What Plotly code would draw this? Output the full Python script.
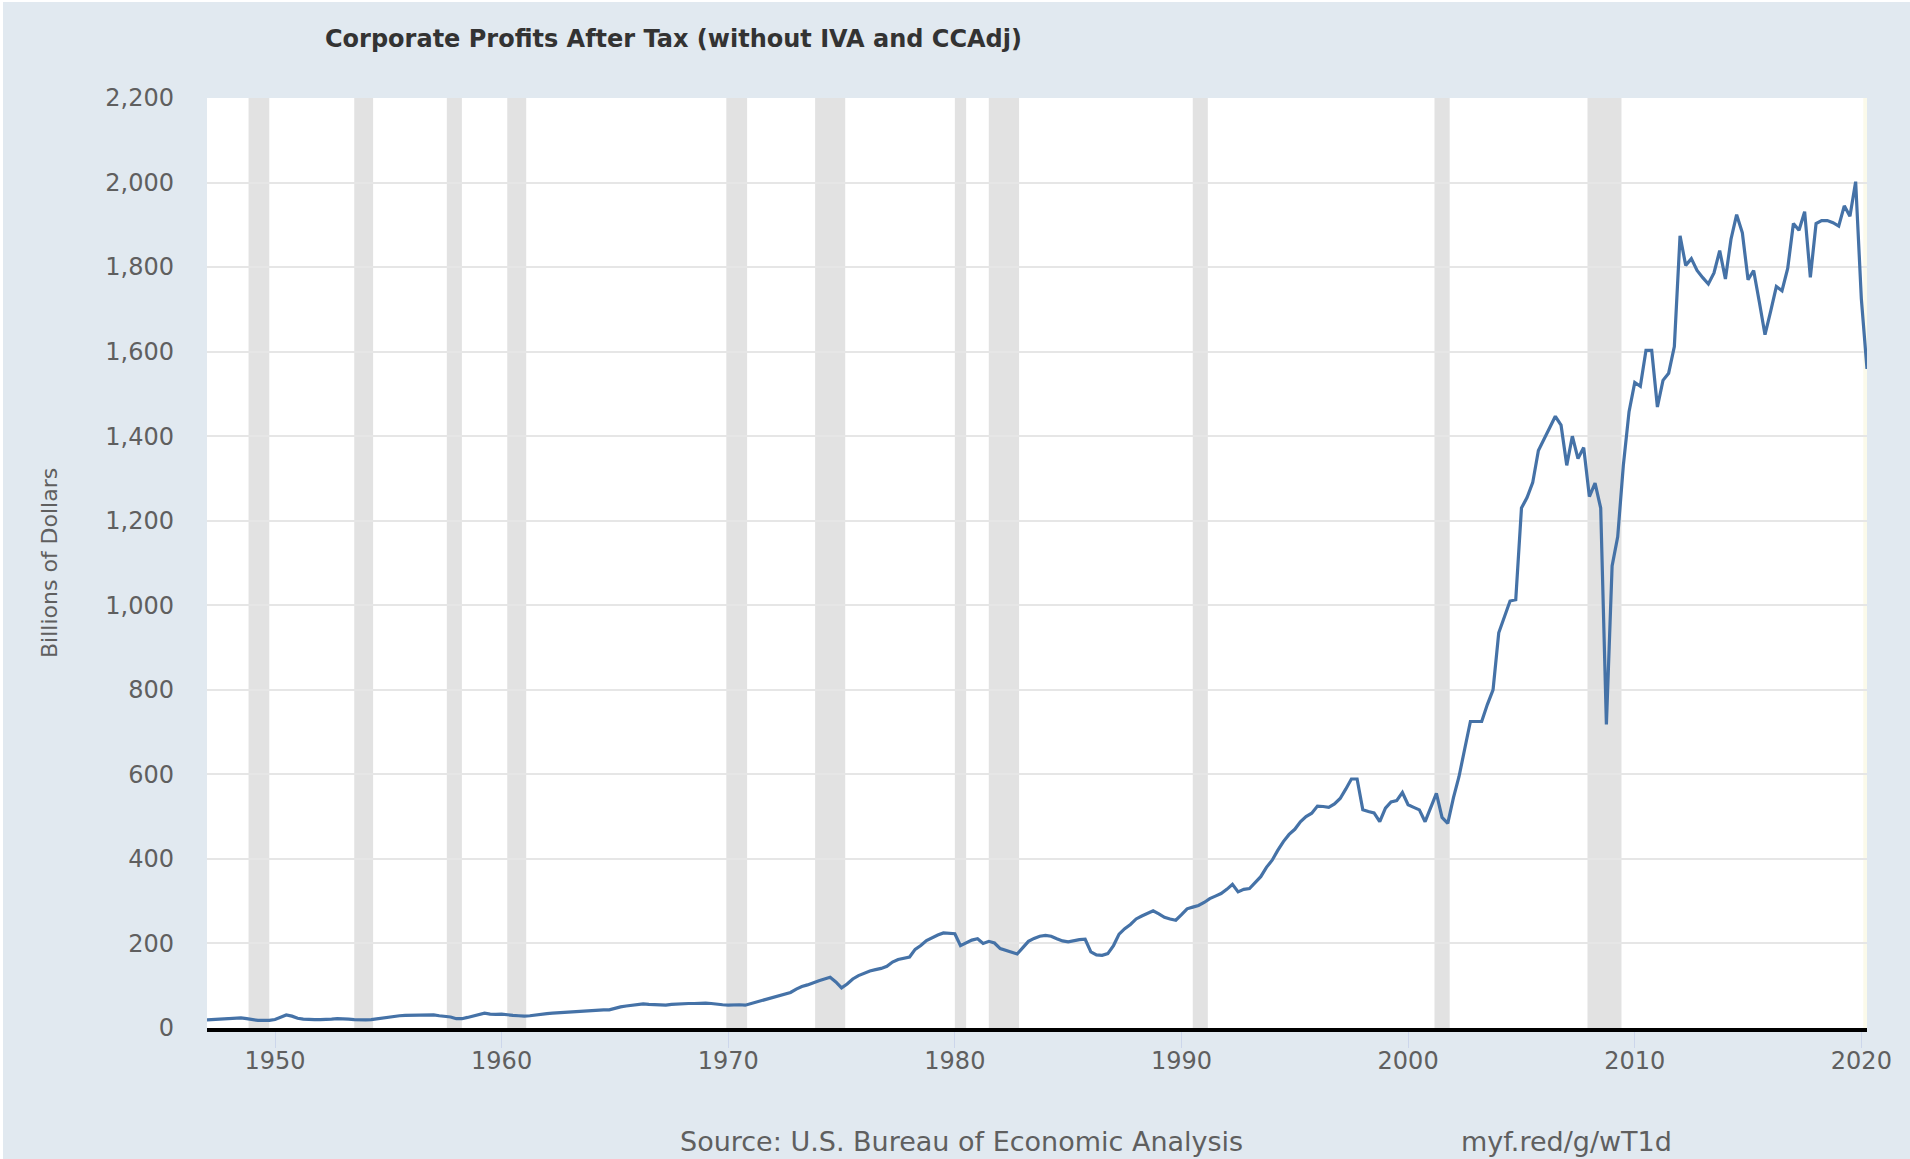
import pandas as pd
import plotly.graph_objects as go

# Corporate Profits After Tax (without IVA and CCAdj), billions of dollars, quarterly from 1947Q1
values_1947_1969 = [
    19, 20, 21, 22,   23, 24, 24, 22,   20, 18, 18, 18,   20, 25, 31, 28,
    23, 21, 20, 20,   20, 20, 21, 22,   22, 21, 20, 19,   19, 20, 22, 23,
    26, 28, 29, 30,   30, 30, 30, 31,   31, 29, 28, 26,   22, 22, 25, 28,
    32, 35, 33, 32,   33, 31, 30, 29,   28, 29, 31, 32,   34, 35, 36, 37,
    38, 39, 40, 41,   42, 42, 43, 43,   47, 50, 52, 54,   56, 57, 56, 55,
    54, 54, 56, 57,   57, 58, 58, 59,   59, 58, 56, 55,
]
values_1970_1989 = [
    54, 55, 55, 54,   58, 62, 66, 70,   73, 76, 80, 84,   92, 98, 102, 108,
    112, 116, 120, 109,   95, 104, 116, 124,   130, 135, 138, 141,   146, 156, 162, 165,
    168, 186, 195, 207,   214, 220, 225, 224,   223, 195, 202, 208,   211, 200, 205, 201,
    188, 184, 178, 175,   190, 205, 212, 217,   219, 217, 211, 206,   204, 207, 209, 210,
    180, 173, 172, 176,   195, 222, 235, 245,   258, 265, 270, 277,   270, 262, 258, 255,
]
values_1990_2009 = [
    268, 282, 286, 290,   297, 306, 312, 318,   328, 340, 322, 328,   330, 345, 358, 380,
    397, 420, 441, 458,   470, 488, 500, 508,   525, 524, 522, 530,   543, 565, 589, 589,
    516, 512, 509, 488,   520, 535, 538, 557,   528, 522, 516, 488,   520, 555, 498, 484,
    545, 595, 660, 725,   725, 725, 765, 800,   935, 975, 1010, 1013,   1230, 1255, 1290, 1366,
    1395, 1420, 1447, 1426,   1331, 1400, 1347, 1373,   1257, 1289, 1230, 718,   1093, 1162, 1331, 1458,
]
values_2010_2020 = [
    1527, 1518, 1603, 1603,   1469, 1532, 1549, 1612,   1874, 1804, 1820, 1792,
    1775, 1760, 1786, 1839,   1772, 1866, 1924, 1881,   1770, 1792, 1718, 1640,
    1696, 1754, 1744, 1797,   1903, 1887, 1931, 1776,   1903, 1910, 1910, 1905,
    1897, 1945, 1920, 2002,   1725, 1559,
]
profits = values_1947_1969 + values_1970_1989 + values_1990_2009 + values_2010_2020
first_quarter = "1947-01-01"
dates = pd.date_range(first_quarter, periods=len(profits), freq="QS")

recession_starts = ["1948-11-01", "1953-07-01", "1957-08-01", "1960-04-01", "1969-12-01",
                    "1973-11-01", "1980-01-01", "1981-07-01", "1990-07-01", "2001-03-01",
                    "2007-12-01"]
recession_ends = ["1949-10-01", "1954-05-01", "1958-04-01", "1961-02-01", "1970-11-01",
                  "1975-03-01", "1980-07-01", "1982-11-01", "1991-03-01", "2001-11-01",
                  "2009-06-01"]
latest_recession = ("2020-02-01", "2020-04-01")

x_tick_years = list(range(1950, 2021, 10))
y_tick_values = list(range(0, 2201, 200))

title_text = "Corporate Profits After Tax (without IVA and CCAdj)"
y_title = "Billions of Dollars"
source_text = "Source: U.S. Bureau of Economic Analysis"
link_text = "myf.red/g/wT1d"

FONT = "DejaVu Sans"
BG = "#e1e9f0"

fig = go.Figure()
fig.add_trace(go.Scatter(
    x=dates, y=profits, mode="lines",
    line=dict(color="#4572a7", width=3.2),
    hoverinfo="x+y", showlegend=False,
))

shapes = []
for s, e in zip(recession_starts, recession_ends):
    shapes.append(dict(type="rect", xref="x", yref="paper", x0=s, x1=e, y0=0, y1=1,
                       fillcolor="#e2e2e2", line=dict(width=0), layer="below"))
shapes.append(dict(type="rect", xref="x", yref="paper", x0=latest_recession[0],
                   x1=latest_recession[1], y0=0, y1=1,
                   fillcolor="#fbfaea", line=dict(width=0), layer="below"))

# page offset (body margin) so the figure fills the window like the reference
OFF_L, OFF_T = 3, 2
W, H = 1910 - OFF_L, 1159 - OFF_T
L, R, T, B = 207 - OFF_L, 43, 98 - OFF_T, 131
pw = W - L - R
ph = H - T - B


def px_x(p):
    return (p - OFF_L - L) / pw


def px_y(p):
    return (H + OFF_T - B - p) / ph


fig.update_layout(
    width=W, height=H,
    paper_bgcolor=BG, plot_bgcolor="#ffffff",
    margin=dict(l=L, r=R, t=T, b=B, pad=0),
    font=dict(family=FONT, color="#5a5a5a"),
    shapes=shapes,
    separators=".,",
    xaxis=dict(
        type="date",
        range=[first_quarter, dates[-1].strftime("%Y-%m-%d")],
        tickvals=[f"{y}-01-01" for y in x_tick_years],
        ticktext=[str(y) for y in x_tick_years],
        ticks="outside", ticklen=16, tickcolor="#ccd6eb", tickwidth=1,
        tickfont=dict(family=FONT, size=24, color="#5f5f5f"),
        ticklabelstandoff=-8,
        showgrid=False, zeroline=False,
        showline=True, linecolor="#000000", linewidth=4,
        fixedrange=True,
    ),
    yaxis=dict(
        range=[0, 2200],
        tickvals=y_tick_values,
        tickformat=",d",
        tickfont=dict(family=FONT, size=24, color="#5f5f5f"),
        ticks="", ticklabelstandoff=32,
        showgrid=True, gridcolor="#e6e6e6", gridwidth=1.5,
        zeroline=False, showline=False,
        fixedrange=True,
    ),
    annotations=[
        dict(text=f"<b>{title_text}</b>", xref="paper", yref="paper",
             x=px_x(323), y=px_y(39), xanchor="left", yanchor="middle",
             showarrow=False, font=dict(family=FONT, size=24, color="#333333")),
        dict(text=y_title, xref="paper", yref="paper", textangle=-90,
             x=px_x(49), y=px_y(563), xanchor="center", yanchor="middle",
             showarrow=False, font=dict(family=FONT, size=22, color="#5f5f5f")),
        dict(text=source_text, xref="paper", yref="paper",
             x=px_x(678), y=px_y(1141), xanchor="left", yanchor="middle",
             showarrow=False, font=dict(family=FONT, size=27, color="#5f5f5f")),
        dict(text=link_text, xref="paper", yref="paper",
             x=px_x(1459), y=px_y(1141), xanchor="left", yanchor="middle",
             showarrow=False, font=dict(family=FONT, size=27, color="#5f5f5f")),
    ],
)

fig.write_html(
    "out.html",
    config={"displayModeBar": False},
    post_script=f"document.body.style.margin='{OFF_T}px 0 0 {OFF_L}px';"
                "document.body.style.overflow='hidden';",
)
